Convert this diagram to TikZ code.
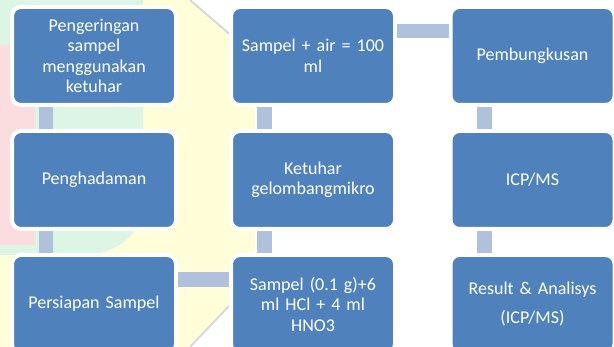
\documentclass[tikz,border=0pt]{standalone}
\usepackage{fontspec}
\setmainfont{Carlito}
\definecolor{boxblue}{HTML}{4F81BD}
\definecolor{connblue}{RGB}{175,193,219}
\definecolor{wmyellow}{HTML}{FFFED8}
\definecolor{wmgreen}{HTML}{DCF5E4}
\definecolor{wmpink}{HTML}{FBDDE0}
\definecolor{wmgray}{HTML}{D9D9D6}
\tikzset{
  box/.style={draw=white, line width=4pt, fill=boxblue, rounded corners=9pt,
    minimum width=164pt, minimum height=98pt, text width=150pt, align=center,
    text=white, font=\fontsize{18}{20.5}\selectfont, inner sep=0pt},
  conn/.style={fill=connblue}
}
\begin{document}
\begin{tikzpicture}[x=1pt,y=-1pt]
\useasboundingbox (0,0) rectangle (614,347);
\clip (0,0) rectangle (614,347);
\fill[white] (0,0) rectangle (614,347);
% faint watermark
\fill[wmyellow] (0,0) -- (190,0) -- (255,56) -- (255,279) -- (187,347) -- (0,347) -- cycle;
\fill[wmgreen] (0,0) -- (143,0) -- (143,200) .. controls (143,235) and (120,250) .. (90,255) -- (0,255) -- cycle;
\fill[wmpink] (0,45) -- (35,45) -- (35,245) -- (0,245) -- cycle;
\draw[wmgray, line width=2pt] (190,0) -- (255,56);
\draw[wmgray, line width=2pt] (229,306) -- (190,347);
% boxes
\node[box] (a1) at (94,56) {Pengeringan\\sampel\\menggunakan\\ketuhar};
\node[box] (a2) at (94,180) {Penghadaman};
\node[box] (a3) at (94,304) {Persiapan Sampel};
\node[box] (b1) at (313,56) {Sampel + air = 100\\ml};
\node[box] (b2) at (313,180) {Ketuhar\\gelombangmikro};
\node[box] (b3) at (313,304) {Sampel (0.1 g)+6\\ml HCl + 4 ml\\HNO3};
\node[box] (c1) at (532.5,56) {Pembungkusan};
\node[box] (c2) at (532.5,180) {ICP/MS};
\node[box] (c3) at (532.5,304) {Result \& Analisys\\[9pt](ICP/MS)};
% connectors
\fill[conn] ([xshift=29pt]a1.south west) rectangle ([xshift=43pt]a2.north west);
\fill[conn] ([xshift=29pt]a2.south west) rectangle ([xshift=43pt]a3.north west);
\fill[conn] ([yshift=-19pt]a3.north east) rectangle ([yshift=-34pt]b3.north west);
\fill[conn] ([xshift=28pt]b3.north west) rectangle ([xshift=43pt]b2.south west);
\fill[conn] ([xshift=28pt]b2.north west) rectangle ([xshift=43pt]b1.south west);
\fill[conn] ([yshift=-19pt]b1.north east) rectangle ([yshift=-33pt]c1.north west);
\fill[conn] ([xshift=28pt]c1.south west) rectangle ([xshift=43pt]c2.north west);
\fill[conn] ([xshift=28pt]c2.south west) rectangle ([xshift=43pt]c3.north west);
\end{tikzpicture}
\end{document}
